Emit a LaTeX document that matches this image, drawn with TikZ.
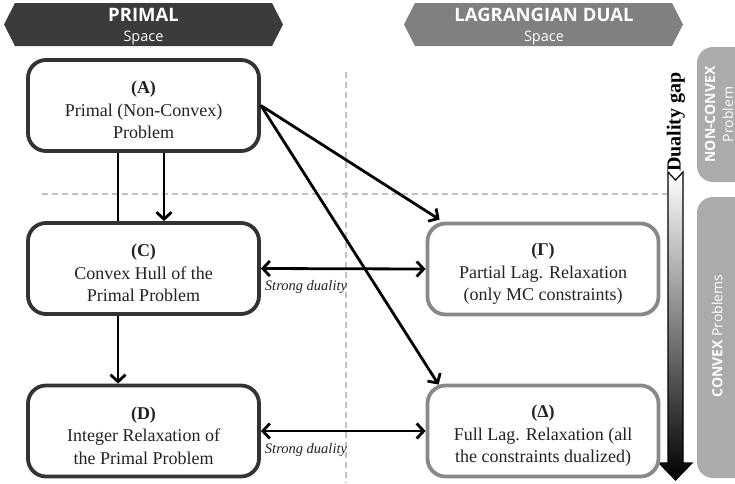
\documentclass[tikz,border=0pt]{standalone}
\usepackage{fontspec}
\setmainfont{Liberation Serif}
\newfontfamily\hdr{Open Sans}
\usetikzlibrary{arrows.meta,calc}
\definecolor{darkbox}{HTML}{333333}
\definecolor{lightbox}{HTML}{888888}
\definecolor{primhdr}{HTML}{3B3B3B}
\definecolor{dualhdr}{HTML}{808080}
\definecolor{barfill}{HTML}{ABABAB}
\definecolor{dashcol}{HTML}{C0C0C0}
\definecolor{txt}{HTML}{222222}
\tikzset{
  pbox/.style={draw=darkbox, line width=3.8pt, rounded corners=18pt, fill=white,
    minimum width=231pt, minimum height=91pt, align=center, text=txt,
    text height=67pt, font=\fontsize{18}{22.5}\selectfont},
  dbox/.style={pbox, draw=lightbox},
  arr/.style={line width=2.8pt, -{Straight Barb[length=7pt,width=15pt]}},
  darr/.style={line width=2.8pt, {Straight Barb[length=7pt,width=15pt]}-{Straight Barb[length=7pt,width=15pt]}},
  plain/.style={line width=2.8pt},
  sep/.style={draw=dashcol, line width=1.4pt, dash pattern=on 6pt off 4pt},
  sdlab/.style={font=\fontsize{14.5}{16}\selectfont\itshape, text=txt, inner sep=0pt},
  hdrtxt/.style={text=white, inner sep=0pt},
  bartxt/.style={text=white, rotate=90, align=center, inner sep=0pt, font=\hdr\fontsize{14}{18}\selectfont}
}
\begin{document}
\begin{tikzpicture}[x=1pt,y=-1pt]
\useasboundingbox (0,0) rectangle (735,483);
% headers
\fill[primhdr] (4,24.5) -- (15,3) -- (272,3) -- (283,24.5) -- (272,46) -- (15,46) -- cycle;
\node[hdrtxt, font=\hdr\bfseries\fontsize{18.5}{20}\selectfont] (ph) at (143.5,15) {PRIMAL};
\node[hdrtxt, font=\hdr\fontsize{14.5}{15}\selectfont] (ps) at (143.5,37.5) {Space};
\fill[dualhdr] (404,24.5) -- (415,3) -- (672,3) -- (683,24.5) -- (672,46) -- (415,46) -- cycle;
\node[hdrtxt, font=\hdr\bfseries\fontsize{18.5}{20}\selectfont] (dh) at (544,15) {LAGRANGIAN DUAL};
\node[hdrtxt, font=\hdr\fontsize{14.5}{15}\selectfont] (ds) at (544,37.5) {Space};
% side bars
\begin{scope}
\clip (0,0) rectangle (735,483);
\fill[barfill, rounded corners=16pt] (697,47) rectangle (770,182);
\fill[barfill, rounded corners=16pt] (697,197) rectangle (770,478);
\end{scope}
\node[bartxt] (nc) at (719,114.5) {\textbf{NON-CONVEX}\\Problem};
\node[bartxt] (cv) at (717,336) {\textbf{CONVEX} Problems};
% separators
\draw[sep] (346,72) -- (346,483);
\draw[sep] (42,194) -- (667,194);
% duality gap arrow
\shade[top color=white, bottom color=black, draw=black, line width=1.2pt]
  (668,172) -- (675.5,180) -- (683,172) -- (683,463) -- (692,463) -- (675.5,480)
  -- (659,463) -- (668,463) -- cycle;
\node[rotate=90, font=\fontsize{20}{20}\selectfont\bfseries, inner sep=0pt] (dg) at (676,122) {Duality gap};
% boxes
\node[pbox] (A) at (143.5,105.5) {\textbf{(A)}\\Primal (Non-Convex)\\Problem};
\node[pbox] (C) at (143.5,268.5) {\textbf{(C)}\\Convex Hull of the\\Primal Problem};
\node[pbox] (D) at (143.5,431) {\textbf{(D)}\\Integer Relaxation of\\the Primal Problem};
\node[dbox] (G) at (543,269) {\textbf{(Γ)}\\Partial Lag. Relaxation\\(only MC constraints)};
\node[dbox] (Dl) at (543,431) {\textbf{(Δ)}\\Full Lag. Relaxation (all\\the constraints dualized)};
% connectors
\coordinate (x1) at (118,0);
\coordinate (x2) at (164,0);
\draw[plain] (A.south -| x1) -- (C.north -| x1);
\draw[arr] (A.south -| x2) -- (C.north -| x2);
\draw[arr] (C.south -| x1) -- (D.north -| x1);
\draw[arr] (A.east) -- ($(G.north west)+(14,-2)$);
\draw[arr] (A.east) -- ($(Dl.north west)+(13,1)$);
\draw[darr] (C.east) -- (G.west);
\draw[darr] (D.east) -- (Dl.west);
\node[sdlab] (s1) at (306,287) {Strong duality};
\node[sdlab] (s2) at (306,450) {Strong duality};
\end{tikzpicture}
\end{document}
